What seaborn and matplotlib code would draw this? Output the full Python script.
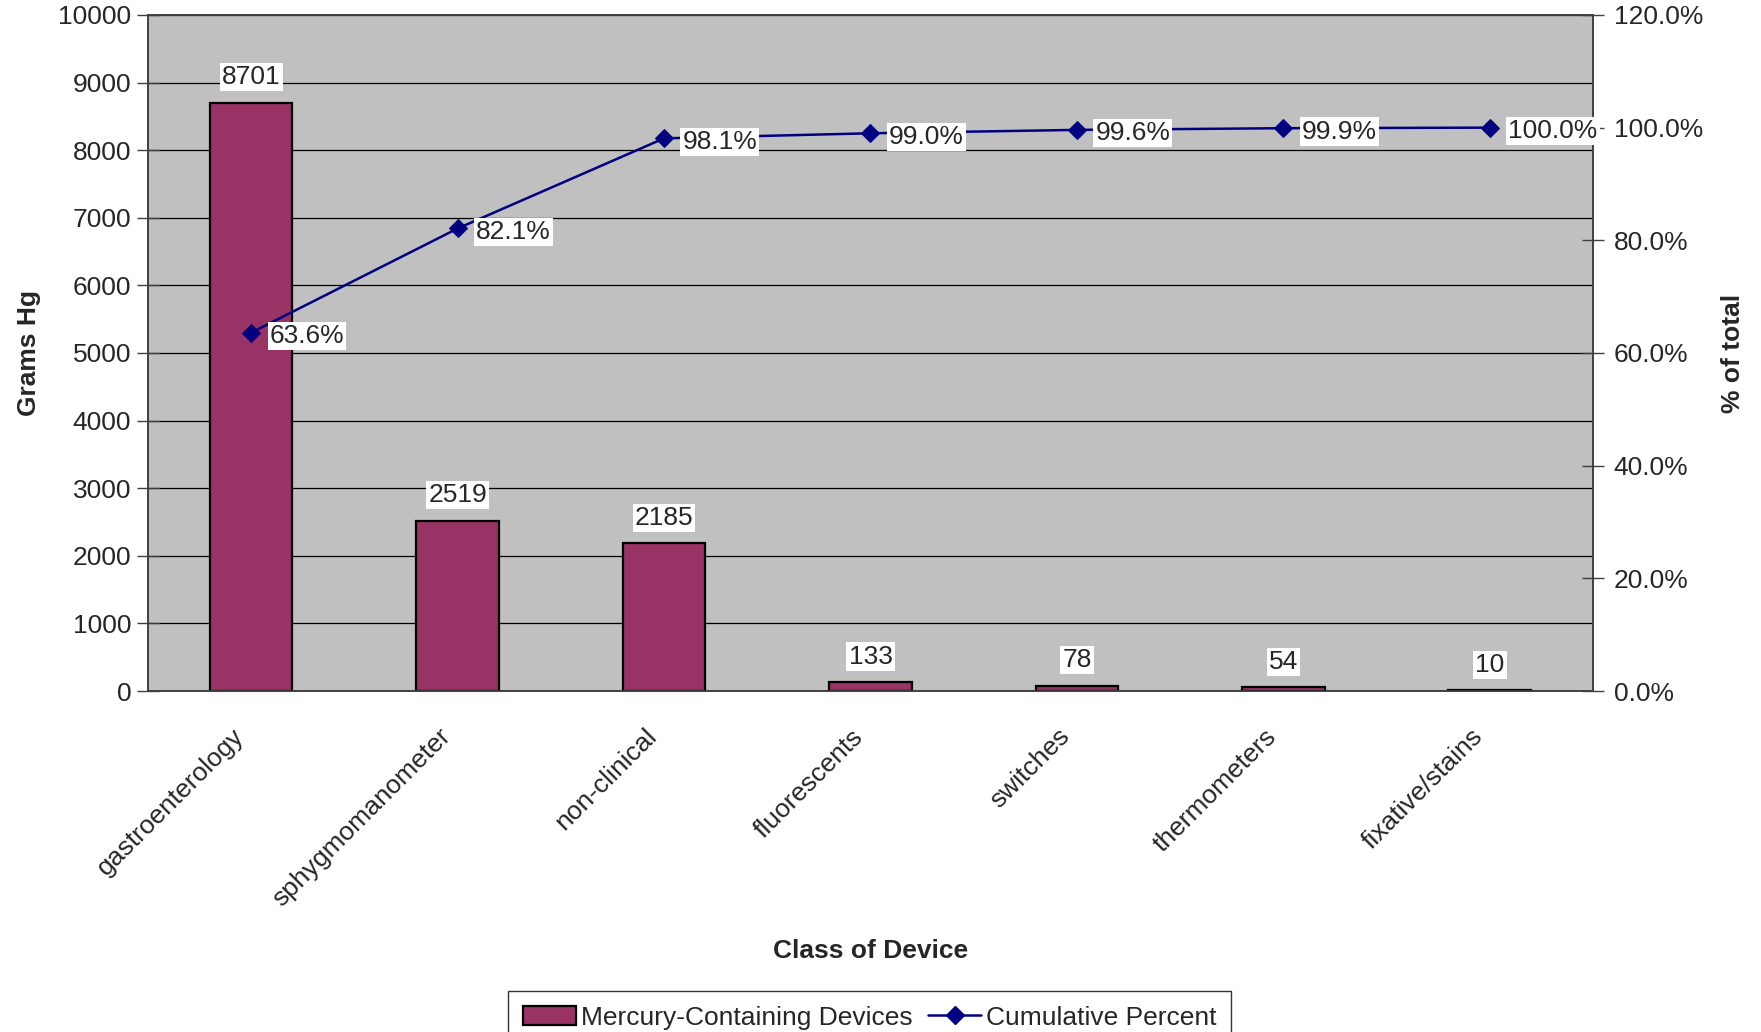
import matplotlib
matplotlib.use("Agg")
import matplotlib.pyplot as plt
import matplotlib.transforms as mtransforms
import seaborn as sns
import numpy as np
import pandas as pd
from matplotlib.patches import Patch
from matplotlib.lines import Line2D
from matplotlib.ticker import FuncFormatter, MultipleLocator

categories = ["gastroenterology", "sphygmomanometer", "non-clinical", "fluorescents",
              "switches", "thermometers", "fixative/stains"]
grams_hg = [8701, 2519, 2185, 133, 78, 54, 10]
cumulative_pct = [63.6, 82.1, 98.1, 99.0, 99.6, 99.9, 100.0]

sns.set_theme(style="white")
plt.rcParams['font.family'] = ['Liberation Sans', 'DejaVu Sans']
FS = 19

df = pd.DataFrame({"cat": categories, "grams": grams_hg, "pos": np.arange(len(categories)),
                   "cum": cumulative_pct})

fig = plt.figure(figsize=(17.61, 10.32), dpi=100)
ax = fig.add_axes([0.084, 0.3304, 0.8206, 0.6551])
ax.set_facecolor("#C0C0C0")

sns.barplot(data=df, x="cat", y="grams", ax=ax, color="#993366", width=0.4,
            edgecolor="black", linewidth=1.6, saturation=1, zorder=3)
ax.set_xlim(-0.5, len(categories) - 0.5)
ax.set_ylim(0, 10000)
ax.yaxis.set_major_locator(MultipleLocator(1000))
ax.grid(axis="y", color="black", linewidth=0.9, zorder=1)
ax.set_axisbelow(True)
for s in ax.spines.values():
    s.set_color("#404040")
    s.set_linewidth(1.2)

for i, v in enumerate(grams_hg):
    ax.text(i, v + 200, str(v), ha="center", va="bottom", fontsize=FS, zorder=6,
            bbox=dict(facecolor="white", edgecolor="none", pad=1.5))

ax.set_xticks(np.arange(len(categories)))
ax.set_xticklabels(categories, rotation=45, ha="right", rotation_mode="anchor", fontsize=FS)
ax.tick_params(axis="x", length=0, pad=24)
shift = mtransforms.ScaledTranslation(-14 / 72, 0, fig.dpi_scale_trans)
for lbl in ax.get_xticklabels():
    lbl.set_transform(lbl.get_transform() + shift)
ax.set_xticks(np.arange(len(categories) + 1) - 0.5, minor=True)
ax.tick_params(axis="x", which="minor", direction="inout", length=16, width=1, color="#404040")
ax.tick_params(axis="y", direction="inout", length=16, width=1, color="#404040", labelsize=FS, pad=4, left=True)
ax.set_xlabel("Class of Device", fontsize=FS, fontweight="bold", labelpad=20)
ax.set_ylabel("Grams Hg", fontsize=FS, fontweight="bold", labelpad=12)

ax2 = ax.twinx()
sns.lineplot(data=df, x="pos", y="cum", ax=ax2, color="#000080", linewidth=1.8,
             marker="D", markersize=9, markeredgecolor="#000080", zorder=5)
ax2.set_ylim(0, 120)
ax2.set_xlim(-0.5, len(categories) - 0.5)
ax2.yaxis.set_major_locator(MultipleLocator(20))
ax2.yaxis.set_major_formatter(FuncFormatter(lambda v, p: f"{v:.1f}%"))
ax2.tick_params(axis="y", direction="inout", length=16, width=1, color="#404040", labelsize=FS, pad=7, right=True)
ax2.set_ylabel("% of total", fontsize=FS, fontweight="bold", labelpad=13)
ax2.set_xlabel("")
for s in ax2.spines.values():
    s.set_color("#404040")
    s.set_linewidth(1.2)

for i, c in enumerate(cumulative_pct):
    ax2.text(i + 0.09, c - 0.6, f"{c:.1f}%", ha="left", va="center", fontsize=FS, zorder=6,
             bbox=dict(facecolor="white", edgecolor="none", pad=1.5))

handles = [Patch(facecolor="#993366", edgecolor="black", linewidth=1.6),
           Line2D([0], [0], color="#000080", linewidth=1.8, marker="D", markersize=9)]
leg = fig.legend(handles, ["Mercury-Containing Devices", "Cumulative Percent"],
                 loc="upper center", bbox_to_anchor=(0.494, 0.0525), ncol=2, fontsize=FS,
                 frameon=True, fancybox=False, edgecolor="black", handlelength=2.0,
                 handletextpad=0.2, columnspacing=0.6, borderpad=0.55)
leg.get_frame().set_linewidth(1.0)

fig.savefig("out.png", dpi=100)
